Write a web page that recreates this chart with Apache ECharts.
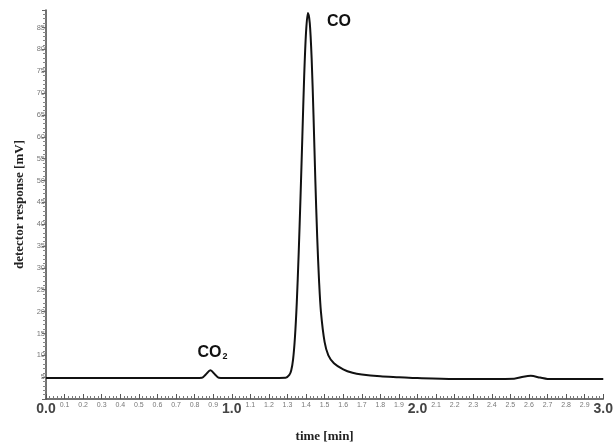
<!DOCTYPE html>
<html>
<head>
<meta charset="utf-8">
<script src="https://cdn.jsdelivr.net/npm/echarts@6/dist/echarts.min.js"></script>
<style>
  html, body { margin: 0; padding: 0; background: #fff; }
  #chart { width: 616px; height: 448px; }
</style>
</head>
<body>
<div id="chart"></div>
<script>
// retention time [min]
const times = [0, 0.5, 0.8, 0.84, 0.86, 0.885, 0.91, 0.93, 0.96, 1.2, 1.29, 1.31, 1.32, 1.33, 1.34, 1.35, 1.36, 1.37, 1.38, 1.39, 1.40, 1.41, 1.42, 1.43, 1.44, 1.45, 1.46, 1.47, 1.48, 1.50, 1.52, 1.55, 1.60, 1.65, 1.70, 1.80, 1.90, 2.00, 2.20, 2.40, 2.52, 2.57, 2.61, 2.66, 2.70, 3.00];
// detector response [mV]
const response = [4.8, 4.8, 4.8, 4.85, 5.6, 6.6, 5.6, 4.85, 4.8, 4.8, 4.85, 5.5, 6.5, 9, 14, 22, 33, 46, 60, 74, 84, 88.3, 86, 78, 65, 50, 37, 27, 20, 13, 10, 8.2, 6.8, 6.0, 5.6, 5.2, 5.0, 4.8, 4.6, 4.6, 4.65, 5.1, 5.3, 4.9, 4.6, 4.6];
// peak labels
const peakNames = ["CO", "CO"];
const peakTimes = [0.885, 1.41];
const peakValues = [6.6, 88.3];

let chart = echarts.init(document.getElementById("chart"));

const points = times.map((t, i) => [t, response[i]]);

chart.setOption({
  animation: false,
  grid: {
    left: 46,
    right: 10,
    top: 10,
    bottom: 44,
  },
  xAxis: {
    type: "value",
    min: 0,
    max: 3,
    interval: 0.1,
    name: "time [min]",
    nameLocation: "middle",
    nameGap: 31,
    nameTextStyle: {
      fontFamily: "Liberation Serif",
      fontWeight: "bold",
      fontSize: 13,
      color: "#222",
    },
    axisLine: { lineStyle: { color: "#444", width: 1.5 } },
    axisTick: { inside: true, length: 5, lineStyle: { color: "#555" } },
    minorTick: { show: true, splitNumber: 5, length: 3, lineStyle: { color: "#777" } },
    splitLine: { show: false },
    axisLabel: {
      margin: 3,
      verticalAlign: "top",
      showMinLabel: true,
      showMaxLabel: true,
      formatter: function (v) {
        if (Math.abs(v - Math.round(v)) < 1e-6) {
          return "{big|" + v.toFixed(1) + "}";
        }
        return "{small|" + v.toFixed(1) + "}";
      },
      rich: {
        big: {
          fontFamily: "Liberation Sans",
          fontWeight: "bold",
          fontSize: 14,
          color: "#444",
        },
        small: {
          fontFamily: "Liberation Sans",
          fontSize: 7,
          color: "#777",
        },
      },
    },
  },
  yAxis: {
    type: "value",
    min: 0,
    max: 89,
    interval: 5,
    name: "detector response [mV]",
    nameLocation: "middle",
    nameGap: 20,
    nameTextStyle: {
      fontFamily: "Liberation Serif",
      fontWeight: "bold",
      fontSize: 13,
      color: "#222",
    },
    axisLine: { show: true, lineStyle: { color: "#444", width: 1.5 } },
    axisTick: { show: true, length: 4, lineStyle: { color: "#666" } },
    minorTick: { show: true, splitNumber: 5, length: 3, lineStyle: { color: "#888" } },
    splitLine: { show: false },
    axisLabel: {
      margin: 1,
      fontFamily: "Liberation Sans",
      fontSize: 7.5,
      color: "#777",
      formatter: function (v) {
        if (v === 0 || v > 85) return "";
        return String(v);
      },
    },
  },
  series: [
    {
      type: "line",
      data: points,
      smooth: 0.3,
      symbol: "none",
      lineStyle: { color: "#111", width: 2 },
      markPoint: {
        symbol: "circle",
        symbolSize: 0,
        data: [
          {
            coord: [peakTimes[0], peakValues[0]],
            label: {
              show: true,
              formatter: "{a|" + peakNames[0] + "}{b|2}",
              offset: [2, -18],
              rich: {
                a: { fontFamily: "Liberation Sans", fontWeight: "bold", fontSize: 16, color: "#111" },
                b: { fontFamily: "Liberation Sans", fontWeight: "bold", fontSize: 9, color: "#111", padding: [8, 0, 0, 1] },
              },
            },
          },
          {
            coord: [peakTimes[1], peakValues[1]],
            label: {
              show: true,
              formatter: peakNames[1],
              offset: [31, 9],
              fontFamily: "Liberation Sans",
              fontWeight: "bold",
              fontSize: 16,
              color: "#111",
            },
          },
        ],
      },
    },
  ],
});
</script>
</body>
</html>
